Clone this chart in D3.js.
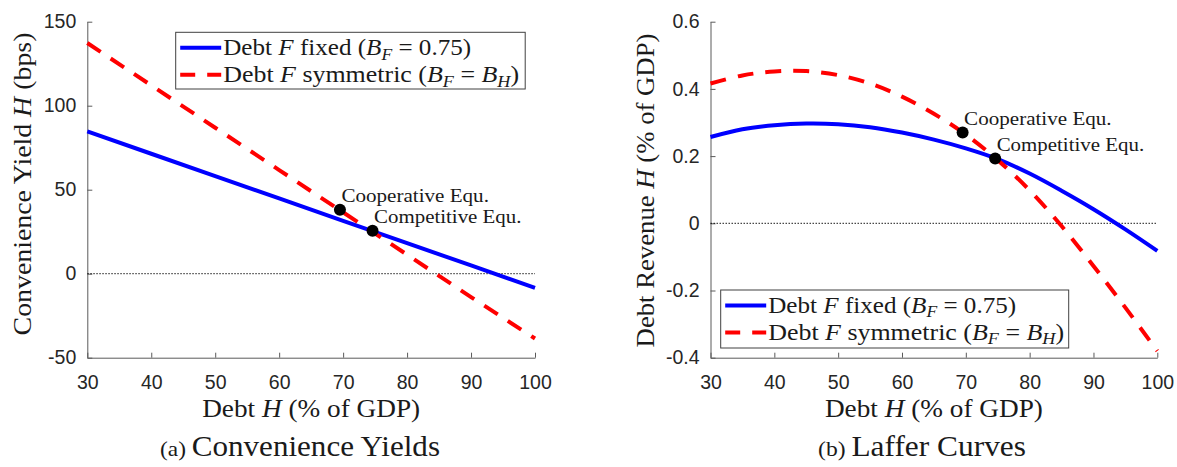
<!DOCTYPE html>
<html>
<head>
<meta charset="utf-8">
<script src="https://cdn.jsdelivr.net/npm/d3@7"></script>
<style>
  body { margin: 0; background: #fff; }
  svg { display: block; }
  .tick text { font-family: "Liberation Sans", Arial, sans-serif; font-size: 19.5px; fill: #262626; }
  .tick line, .domain { stroke: #5a5a5a; stroke-width: 1; }
  .serif { font-family: "Liberation Serif", "Times New Roman", serif; fill: #1a1a1a; }
</style>
</head>
<body>
<svg id="chart" width="1177" height="467"></svg>
<script>
// ---- data ----
const debtA = [30, 40, 50, 60, 70, 80, 90, 100];
const yieldFixed = [84.7, 71.4, 58.1, 44.8, 31.5, 18.2, 4.9, -8.5];
const yieldSym = [137.3, 112.1, 86.9, 61.7, 36.5, 11.3, -13.9, -38.6];

const debtB = [30, 35, 40, 45, 50, 55, 60, 65, 70, 75, 80, 85, 90, 95, 100];
const revenueFixed = [0.257, 0.280, 0.292, 0.297, 0.295, 0.286, 0.270, 0.249, 0.223, 0.191, 0.148, 0.097, 0.042, -0.018, -0.082];
const revenueSym = [0.416, 0.440, 0.452, 0.453, 0.441, 0.416, 0.377, 0.326, 0.264, 0.188, 0.098, -0.008, -0.127, -0.251, -0.380];

const eqNames = ["Cooperative Equ.", "Competitive Equ."];
const eqDebt = [69.5, 74.6];
const eqYield = [38.1, 25.6];
const eqRevenue = [0.270, 0.193];

const xTicks = [30, 40, 50, 60, 70, 80, 90, 100];
const yTicksA = [-50, 0, 50, 100, 150];
const yTicksB = [-0.4, -0.2, 0, 0.2, 0.4, 0.6];
const yLabelsB = ["-0.4", "-0.2", "0", "0.2", "0.4", "0.6"];

const svg = d3.select("#chart");

// rich text: segments [text, style] style: "" | "it" | "sub"
function richText(parent, segs, size) {
  const t = parent.append("text").attr("class", "serif").attr("font-size", size);
  let shift = 0;
  segs.forEach(([s, st]) => {
    const ts = t.append("tspan").text(s);
    if (st === "it" || st === "sub") ts.attr("font-style", "italic");
    if (st === "sub") {
      ts.attr("font-size", size * 0.7).attr("dy", size * 0.22 - shift);
      shift = size * 0.22;
    } else if (shift) {
      ts.attr("dy", -shift);
      shift = 0;
    }
  });
  return t;
}

// place text so that it spans a measured width
function placeText(x, y, segs, size, width, anchor, rot) {
  const g = svg.append("g").attr("transform", `translate(${x},${y})` + (rot ? ` rotate(${rot})` : ""));
  const t = richText(g, segs, size).attr("text-anchor", anchor || "start");
  const w = t.node().getBBox().width;
  t.attr("transform", `scale(${width / w},1)`);
  return g;
}

function panel(cfg) {
  const x = d3.scaleLinear().domain([30, 100]).range(cfg.xr);
  const y = d3.scaleLinear().domain(cfg.yd).range([357.7, 21.7]);

  svg.append("g")
    .attr("transform", `translate(0,${y.range()[0]})`)
    .call(d3.axisBottom(x).tickValues(xTicks).tickFormat(d => d)
      .tickSizeInner(-5).tickSizeOuter(0).tickPadding(17));

  svg.append("g")
    .attr("transform", `translate(${cfg.xr[0]},0)`)
    .call(d3.axisLeft(y).tickValues(cfg.yt).tickFormat((d, i) => cfg.yl[i])
      .tickSizeInner(-5).tickSizeOuter(0).tickPadding(11));

  svg.selectAll(null).select("text");

  // zero line
  svg.append("line")
    .attr("x1", x(30)).attr("x2", x(100))
    .attr("y1", y(0)).attr("y2", y(0))
    .attr("stroke", "#000").attr("stroke-width", 0.9)
    .attr("stroke-dasharray", "1.5,1.5");

  const line = d3.line()
    .x((d, i) => x(cfg.xs[i]))
    .y(d => y(d))
    .curve(cfg.curve);

  svg.append("path").datum(cfg.fixed)
    .attr("d", line).attr("fill", "none")
    .attr("stroke", "#0000ff").attr("stroke-width", 4);

  svg.append("path").datum(cfg.sym)
    .attr("d", line).attr("fill", "none")
    .attr("stroke", "#ff0000").attr("stroke-width", 4)
    .attr("stroke-dasharray", "16,12");

  svg.selectAll(null).data(eqDebt).enter().append("circle")
    .attr("cx", d => x(d)).attr("cy", (d, i) => y(cfg.eq[i]))
    .attr("r", 6).attr("fill", "#000");

  eqNames.forEach((n, i) => {
    placeText(x(eqDebt[i]) + 1.5, y(cfg.eq[i]) - 7.5, [[n, ""]], 19.4, 147.5, "start");
  });

  // legend
  const [lx, ly, lw, lh] = cfg.legend;
  svg.append("rect").attr("x", lx).attr("y", ly).attr("width", lw).attr("height", lh)
    .attr("fill", "#fff").attr("stroke", "#404040").attr("stroke-width", 1);
  const rows = [
    { c: "#0000ff", dash: null, w: 248,
      segs: [["Debt ", ""], ["F", "it"], [" fixed (", ""], ["B", "it"], ["F", "sub"], [" = 0.75)", ""]] },
    { c: "#ff0000", dash: "15,12", w: 296,
      segs: [["Debt ", ""], ["F", "it"], [" symmetric (", ""], ["B", "it"], ["F", "sub"], [" = ", ""], ["B", "it"], ["H", "sub"], [")", ""]] }
  ];
  rows.forEach((r, i) => {
    const ry = ly + 15.5 + i * 27;
    svg.append("line").attr("x1", lx + 4.5).attr("x2", lx + 45.5).attr("y1", ry).attr("y2", ry)
      .attr("stroke", r.c).attr("stroke-width", 4).attr("stroke-dasharray", r.dash);
    placeText(lx + 47.5, ry + 7, r.segs, 22.6, r.w, "start");
  });

  // axis labels
  const cx = (cfg.xr[0] + cfg.xr[1]) / 2;
  placeText(cx, 416.5, [["Debt ", ""], ["H", "it"], [" (% of GDP)", ""]], 24.3, 218, "middle");
  placeText(cfg.xr[0] - 56.3, cfg.ylab[1], cfg.ylab[0], 24.5, cfg.ylab[2], "middle", -90);

  // caption
  const cap = svg.append("g").attr("transform", `translate(${cfg.cap[1]},456)`);
  const ct = cap.append("text").attr("class", "serif").attr("text-anchor", "middle");
  ct.append("tspan").attr("font-size", 21.5).text(cfg.cap[0][0] + " ");
  ct.append("tspan").attr("font-size", 28.6).text(cfg.cap[0][1]);
  const cw = ct.node().getBBox().width;
  ct.attr("transform", `scale(${cfg.cap[2] / cw},1)`);
}

panel({
  xr: [87.3, 535], yd: [-50, 150], yt: yTicksA, yl: yTicksA.map(String),
  xs: debtA, fixed: yieldFixed, sym: yieldSym, eq: eqYield, curve: d3.curveLinear,
  legend: [175.7, 32.3, 349.5, 56.7],
  ylab: [[["Convenience Yield ", ""], ["H", "it"], [" (bps)", ""]], 184, 303],
  cap: [["(a)", "Convenience Yields"], 300, 280]
});

panel({
  xr: [710.5, 1157.3], yd: [-0.4, 0.6], yt: yTicksB, yl: yLabelsB,
  xs: debtB, fixed: revenueFixed, sym: revenueSym, eq: eqRevenue, curve: d3.curveCatmullRom.alpha(0.5),
  legend: [720.7, 290, 348, 58],
  ylab: [[["Debt Revenue ", ""], ["H", "it"], [" (% of GDP)", ""]], 190.5, 314],
  cap: [["(b)", "Laffer Curves"], 922, 208]
});
</script>
</body>
</html>
